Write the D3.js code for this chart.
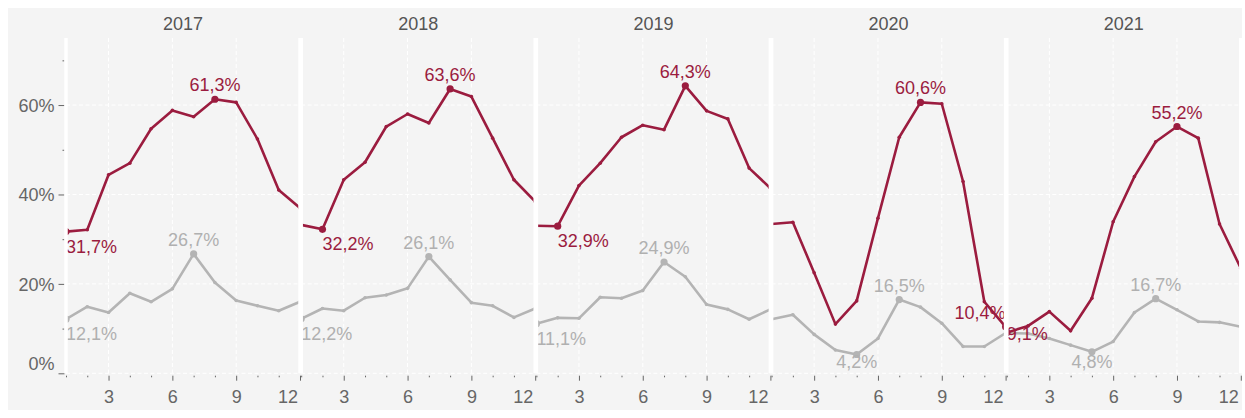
<!DOCTYPE html>
<html>
<head>
<meta charset="utf-8">
<script src="https://cdn.jsdelivr.net/npm/d3@7"></script>
<style>
  body { margin: 0; background: #fff; }
  svg { display: block; font-family: "Liberation Sans", Arial, sans-serif; }
  .axis text { fill: #666; font-size: 18px; }
  .axis line { stroke: #666; }
</style>
</head>
<body>
<div id="chart"></div>
<script>
// data (percent, one value per month)
var years = ["2017", "2018", "2019", "2020", "2021"];
var months = [1, 2, 3, 4, 5, 6, 7, 8, 9, 10, 11, 12];

var red2017 = [31.7, 32.1, 44.4, 47.0, 54.7, 58.8, 57.4, 61.3, 60.6, 52.4, 41.0, 37.0];
var red2018 = [33.2, 32.2, 43.3, 47.2, 55.2, 58.0, 56.0, 63.6, 61.9, 52.6, 43.3, 38.4];
var red2019 = [33.0, 32.9, 42.0, 47.0, 52.8, 55.5, 54.5, 64.3, 58.7, 56.9, 45.9, 41.4];
var red2020 = [33.4, 33.8, 22.5, 11.0, 16.2, 34.7, 52.8, 60.6, 60.3, 42.9, 16.0, 10.4];
var red2021 = [9.1, 10.6, 13.8, 9.5, 16.8, 33.9, 44.0, 51.8, 55.2, 52.6, 33.4, 23.5];

var grey2017 = [12.1, 14.9, 13.6, 17.9, 16.0, 18.9, 26.7, 20.3, 16.3, 15.1, 14.0, 16.0];
var grey2018 = [12.2, 14.5, 14.0, 16.9, 17.5, 19.0, 26.1, 20.9, 15.8, 15.1, 12.5, 14.5];
var grey2019 = [11.1, 12.4, 12.3, 17.0, 16.8, 18.5, 24.9, 21.6, 15.4, 14.3, 12.1, 14.3];
var grey2020 = [12.1, 13.1, 8.7, 5.2, 4.2, 7.8, 16.5, 14.8, 11.2, 6.0, 6.0, 9.0];
var grey2021 = [9.0, 8.9, 7.8, 6.3, 4.8, 7.1, 13.6, 16.7, 14.2, 11.6, 11.4, 10.4];

var redByYear = [red2017, red2018, red2019, red2020, red2021];
var greyByYear = [grey2017, grey2018, grey2019, grey2020, grey2021];

var yTicks = [0, 10, 20, 30, 40, 50, 60, 70];
var yLabelTicks = [0, 20, 40, 60];
var xLabelTicks = [3, 6, 9, 12];

var RED = "#9b1c3f", GREY = "#b4b4b4", GREY_TEXT = "#b0b0b0";

// layout
var W = 1245, H = 418;
var plotTop = 38, plotBottom = 373.3;
var left0 = 66, step = 235.2, inner = 234;

var pct = d3.formatLocale({decimal: ",", thousands: ".", grouping: [3], currency: ["", "€"]}).format(".1f");

var y = d3.scaleLinear().domain([0, 75]).range([plotBottom, plotTop]);

var svg = d3.select("#chart").append("svg")
  .attr("width", W)
  .attr("height", H);

svg.append("rect")
  .attr("x", 8).attr("y", 8)
  .attr("width", 1234).attr("height", 402)
  .attr("fill", "#f4f4f4");

// y axis (only on the first panel)
var yAxis = svg.append("g")
  .attr("class", "axis")
  .attr("transform", "translate(" + (left0 - 1.5) + ",0)")
  .call(d3.axisLeft(y).tickValues(yTicks).tickSize(6).tickPadding(4)
    .tickFormat(function(d) { return yLabelTicks.indexOf(d) >= 0 ? d + "%" : ""; }));
yAxis.select(".domain").remove();
yAxis.selectAll(".tick line")
  .attr("x2", function(d) { return yLabelTicks.indexOf(d) >= 0 ? -6 : -2; });
yAxis.selectAll(".tick text")
  .attr("x", -10)
  .attr("dy", function(d) { return d === 0 ? "-0.2em" : "0.36em"; });

years.forEach(function(year, i) {
  var x0 = left0 + i * step;
  var x = d3.scaleLinear().domain([1, 12]).range([x0, x0 + inner]);
  var red = redByYear[i], grey = greyByYear[i];

  svg.append("clipPath")
    .attr("id", "clip" + year)
    .append("rect")
    .attr("x", x0).attr("y", 0)
    .attr("width", inner).attr("height", H);

  var g = svg.append("g");
  var gc = g.append("g").attr("clip-path", "url(#clip" + year + ")");

  // title
  g.append("text")
    .attr("x", x0 + inner / 2)
    .attr("y", 30)
    .attr("text-anchor", "middle")
    .attr("fill", "#555")
    .style("font-size", "18px")
    .text(year);

  // grid
  gc.selectAll(".hgrid")
    .data(yLabelTicks)
    .enter().append("line")
    .attr("x1", x0).attr("x2", x0 + inner)
    .attr("y1", function(d) { return y(d); })
    .attr("y2", function(d) { return y(d); })
    .attr("stroke", "#fff")
    .attr("stroke-dasharray", "4,2.5");
  gc.selectAll(".vgrid")
    .data([3, 6, 9])
    .enter().append("line")
    .attr("x1", function(d) { return x(d); })
    .attr("x2", function(d) { return x(d); })
    .attr("y1", plotTop).attr("y2", plotBottom)
    .attr("stroke", "#fff")
    .attr("stroke-dasharray", "4,2.5");

  // x axis
  var xAxis = g.append("g")
    .attr("class", "axis")
    .attr("transform", "translate(0," + (plotBottom + 2.4) + ")")
    .call(d3.axisBottom(x).tickValues(months).tickSize(5)
      .tickFormat(function(d) { return xLabelTicks.indexOf(d) >= 0 ? d : ""; }));
  xAxis.select(".domain").remove();
  xAxis.selectAll(".tick line")
    .attr("y2", function(d) { return xLabelTicks.indexOf(d) >= 0 ? 5 : 1.6; });
  xAxis.selectAll(".tick text")
    .attr("y", 14.7)
    .attr("x", function(d) { return d === 12 ? -2.5 : 0; })
    .attr("text-anchor", function(d) { return d === 12 ? "end" : "middle"; });

  var line = d3.line()
    .x(function(d, j) { return x(months[j]); })
    .y(function(d) { return y(d); });

  var series = [
    {values: grey, color: GREY, text: GREY_TEXT, other: red},
    {values: red, color: RED, text: RED, other: grey}
  ];

  series.forEach(function(s) {
    gc.append("path")
      .datum(s.values)
      .attr("fill", "none")
      .attr("stroke", s.color)
      .attr("stroke-width", 2.6)
      .attr("stroke-linejoin", "round")
      .attr("d", line);

    gc.selectAll(null)
      .data(s.values)
      .enter().append("circle")
      .attr("cx", function(d, j) { return x(months[j]); })
      .attr("cy", function(d) { return y(d); })
      .attr("r", 1.8)
      .attr("fill", s.color);
  });

  // max / min annotations
  series.forEach(function(s) {
    var iMax = d3.maxIndex(s.values), iMin = d3.minIndex(s.values);
    [[iMax, "max"], [iMin, "min"]].forEach(function(p) {
      var j = p[0], v = s.values[j];
      var px = x(months[j]), py = y(v);
      var anchor = months[j] <= 2 ? "start" : months[j] >= 11 ? "end" : "middle";
      var w = 51;
      var bx0 = anchor === "start" ? px : anchor === "end" ? px - w : px - w / 2;
      var by;
      if (p[1] === "max") {
        by = py - 8;
      } else {
        // below the point unless the other line runs through the label
        var below = py + 21;
        var hit = months.some(function(m, k) {
          var mx = x(m);
          if (mx < bx0 - 10 || mx > bx0 + w + 10) return false;
          var oy = y(s.other[k]);
          return oy > below - 17 && oy < below + 3;
        });
        if (!hit) by = Math.min(below, 368);
        else if (Math.abs(s.other[j] - v) < 1) by = py + 7.5; // lines touch: sit on the point
        else by = py - 8;
      }
      gc.append("circle")
        .attr("cx", px).attr("cy", py)
        .attr("r", 3.6)
        .attr("fill", s.color);
      gc.append("text")
        .attr("x", px)
        .attr("y", by)
        .attr("text-anchor", anchor)
        .attr("fill", s.text)
        .style("font-size", "18px")
        .text(pct(v) + "%");
    });
  });

  // white panel separators on top
  g.selectAll(".edge")
    .data([x0, x0 + inner])
    .enter().append("line")
    .attr("x1", function(d) { return d; })
    .attr("x2", function(d) { return d; })
    .attr("y1", plotTop).attr("y2", plotBottom)
    .attr("stroke", "#fff")
    .attr("stroke-width", 3.5);
});
</script>
</body>
</html>
